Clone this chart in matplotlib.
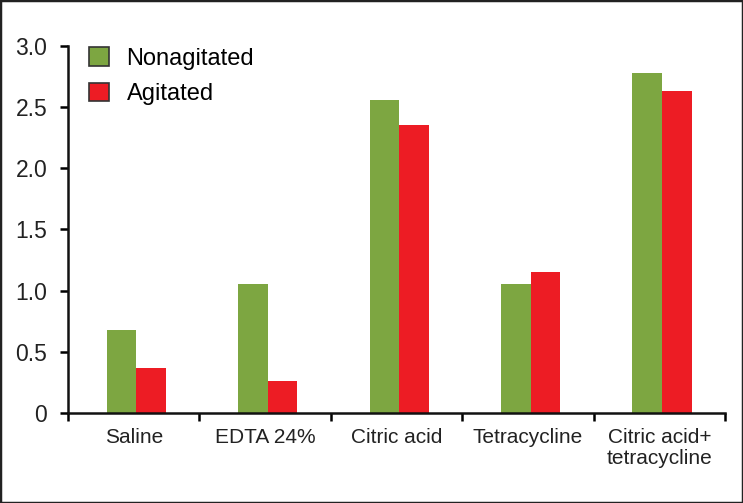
import matplotlib.pyplot as plt
import numpy as np

plt.rcParams['font.family'] = ['Liberation Sans', 'DejaVu Sans']

categories = ['Saline', 'EDTA 24%', 'Citric acid', 'Tetracycline', 'Citric acid+\ntetracycline']
nonagitated = [0.68, 1.055, 2.56, 1.055, 2.78]
agitated = [0.37, 0.26, 2.355, 1.15, 2.63]
yticks = [0, 0.5, 1.0, 1.5, 2.0, 2.5, 3.0]
ytick_labels = ['0', '0.5', '1.0', '1.5', '2.0', '2.5', '3.0']

green = '#7da641'
red = '#ed1c24'

fig = plt.figure(figsize=(7.43, 5.03), dpi=100)
fig.patches.append(plt.Rectangle((0, 0), 1, 1, transform=fig.transFigure,
                                 fill=False, edgecolor='#222222', linewidth=2.5))
ax = fig.add_axes([0.0915, 0.179, 0.8843, 0.7295])

x = np.arange(len(categories))
w = 0.225
ax.bar(x + 0.02 - w / 2, nonagitated, w, color=green, label='Nonagitated')
ax.bar(x + 0.02 + w / 2, agitated, w, color=red, label='Agitated')

ax.set_xlim(-0.5, len(categories) - 0.5)
ax.set_ylim(0, 3.0)
ax.spines['right'].set_visible(False)
ax.spines['top'].set_visible(False)
for s in ['left', 'bottom']:
    ax.spines[s].set_linewidth(1.8)
    ax.spines[s].set_color('#111111')

ax.set_yticks(yticks)
ax.set_yticklabels(ytick_labels, fontsize=16.5, color='#222222')
ax.tick_params(axis='y', length=6, width=1.8, pad=9)

ax.set_xticks(np.arange(len(categories) + 1) - 0.5)
ax.set_xticklabels([])
ax.tick_params(axis='x', which='major', length=6, width=1.8)
ax.set_xticks(x, minor=True)
ax.set_xticklabels(categories, minor=True, fontsize=15, color='#222222',
                   linespacing=1.1)
ax.tick_params(axis='x', which='minor', length=0, pad=11)

leg = ax.legend(loc='upper left', bbox_to_anchor=(0.0, 1.055), frameon=False,
                fontsize=17, handlelength=0.83, handleheight=0.83,
                handletextpad=0.75, labelspacing=0.55)
for p in leg.get_patches():
    p.set_edgecolor('#333333')
    p.set_linewidth(1.2)

fig.savefig('out.png', dpi=100)
